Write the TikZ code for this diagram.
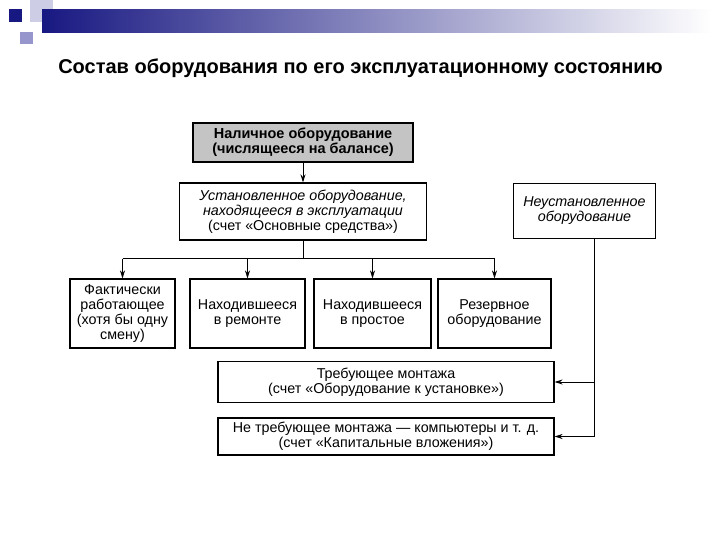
\documentclass[tikz,border=0pt]{standalone}
\usepackage{fontspec}
\setmainfont{Liberation Sans}
\usetikzlibrary{positioning,calc,arrows.meta}

\definecolor{navy}{RGB}{24,24,130}
\definecolor{lightsq}{RGB}{205,205,230}
\definecolor{midsq}{RGB}{150,150,205}
\definecolor{boxgray}{RGB}{196,196,196}

\begin{document}
\begin{tikzpicture}[
    x=1pt, y=-1pt,
    every node/.style={
        draw,
        align=center,
        inner sep=0pt,
        line width=1.1pt,
        font=\fontsize{14.3}{15}\selectfont
    },
    arr/.style={-{Stealth[length=8pt,width=5pt]}, line width=1pt}
]
\useasboundingbox (0,0) rectangle (720,540);

% header decoration
\fill[lightsq] (30,0) rectangle (53,22);
\shade[left color=navy, right color=white] (42,10) rectangle (712,33);
\fill[navy] (9,9) rectangle (22,22);
\fill[midsq] (20,32) rectangle (33,44);

\node[draw=none, font=\bfseries\fontsize{20}{22}\selectfont] (title) at (360.5,68)
    {Состав оборудования по его эксплуатационному состоянию};

\node[fill=boxgray, line width=1.8pt, minimum width=220pt, minimum height=39pt,
      font=\bfseries\fontsize{14.5}{13.5}\selectfont] (nal) at (303,142.5)
    {Наличное оборудование\\(числящееся на балансе)};

\node[minimum width=247pt, minimum height=57pt] (ust) at (303,211.5)
    {\itshape Установленное оборудование,\\\itshape находящееся в эксплуатации\\(счет «Основные средства»)};
\node[minimum width=142pt, minimum height=55pt] (neust) at (584.5,211)
    {\itshape Неустановленное\\\itshape оборудование};

\node[minimum width=105pt, minimum height=69pt] (fakt) at (122.5,313.5)
    {Фактически\\работающее\\(хотя бы одну\\смену)};
\node[minimum width=115pt, minimum height=69pt] (rem) at (247.5,313.5)
    {Находившееся\\в ремонте};
\node[minimum width=117pt, minimum height=69pt] (prost) at (372.5,313.5)
    {Находившееся\\в простое};
\node[minimum width=113pt, minimum height=69pt] (rez) at (494.5,313.5)
    {Резервное\\оборудование};

\node[minimum width=336pt, minimum height=41pt] (treb) at (386,382)
    {Требующее монтажа\\(счет «Оборудование к установке»)};
\node[minimum width=336pt, minimum height=37pt] (netreb) at (386,436.5)
    {Не требующее монтажа — компьютеры и т. д.\\(счет «Капитальные вложения»)};

\draw[arr] (nal) -- (ust);

\draw[line width=1pt] (ust.south) -- ++(0,18) coordinate (razv);
\draw[line width=1pt] (fakt.north |- razv) -- (rez.north |- razv);
\draw[arr] (fakt.north |- razv) -- (fakt.north);
\draw[arr] (rem.north |- razv) -- (rem.north);
\draw[arr] (prost.north |- razv) -- (prost.north);
\draw[arr] (rez.north |- razv) -- (rez.north);

\coordinate (vniz) at ([xshift=9.5pt]neust.south);
\draw[arr] (vniz) |- (netreb.east);
\draw[arr] (vniz |- treb.east) -- (treb.east);

\end{tikzpicture}
\end{document}
